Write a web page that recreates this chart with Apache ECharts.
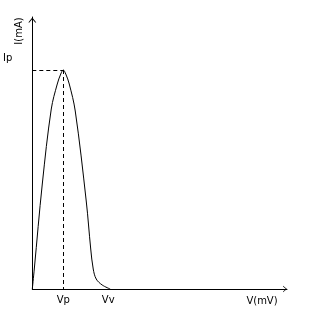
<!DOCTYPE html>
<html>
<head>
<meta charset="utf-8">
<script src="https://cdn.jsdelivr.net/npm/echarts@6/dist/echarts.min.js"></script>
<style>html,body{margin:0;padding:0;background:#fff}#c{width:320px;height:320px}</style>
</head>
<body>
<div id="c"></div>
<script>
// Curve data (V in arbitrary units along the axis, I in arbitrary units)
const vValues = [0, 2, 10, 19, 25, 28.5, 31, 33.5, 37, 43, 54, 58.5, 61, 64, 70, 78];
const iValues = [0, 20, 105, 180, 205, 215, 219, 215, 205, 178, 88, 40, 20, 10, 4, 0];
const peakV = 31;
const peakI = 219;
const xTickValues = [31, 76];
const xTickLabels = ['Vp', 'Vv'];
const yTickValues = [219];
const yTickLabels = ['Ip'];
const xName = 'V(mV)';
const yName = 'I(mA)';

const curve = vValues.map((v, i) => [v, iValues[i]]);
const chev = 'path://M5,0 L10,6 L8.6,6 L5,1.6 L1.4,6 L0,6 Z';
const font = 'DejaVu Sans';

const chart = echarts.init(document.getElementById('c'), null, {renderer: 'canvas'});
chart.setOption({
  backgroundColor: '#fff',
  animation: false,
  grid: {left: 32, right: 33, top: 17, bottom: 31},
  xAxis: {
    type: 'value', min: 0, max: 255,
    splitLine: {show: false},
    axisTick: {show: false},
    axisLine: {lineStyle: {color: '#000', width: 1}, symbol: ['none', chev], symbolSize: [7, 4], symbolOffset: [0, -2]},
    axisLabel: {
      customValues: xTickValues,
      formatter: v => xTickLabels[xTickValues.indexOf(v)],
      color: '#000', fontFamily: font, fontSize: 10, margin: 6
    }
  },
  yAxis: {
    type: 'value', min: 0, max: 272,
    splitLine: {show: false},
    axisTick: {show: false},
    axisLine: {lineStyle: {color: '#000', width: 1}, symbol: ['none', chev], symbolSize: [8, 6], symbolOffset: [0, -3]},
    axisLabel: {
      customValues: yTickValues,
      formatter: v => yTickLabels[yTickValues.indexOf(v)],
      color: '#000', fontFamily: font, fontSize: 10, margin: 20,
      verticalAlign: 'bottom',
      padding: [0, 0, 7, 0]
    }
  },
  graphic: [
    {type: 'text', x: 19, y: 31, rotation: Math.PI / 2,
     style: {text: yName, fill: '#000', font: '10px ' + font, textAlign: 'center', textVerticalAlign: 'middle'}},
    {type: 'text', x: 262, y: 301,
     style: {text: xName, fill: '#000', font: '10px ' + font, textAlign: 'center', textVerticalAlign: 'middle'}}
  ],
  series: [{
    type: 'line',
    data: curve,
    smooth: 0.35,
    symbol: 'none',
    lineStyle: {color: '#000', width: 1},
    markLine: {
      silent: true,
      symbol: 'none',
      label: {show: false},
      lineStyle: {color: '#000', width: 1, type: [4, 3]},
      data: [
        [{coord: [0, peakI]}, {coord: [peakV, peakI]}],
        [{coord: [peakV, peakI]}, {coord: [peakV, 0]}]
      ]
    }
  }]
});
</script>
</body>
</html>
